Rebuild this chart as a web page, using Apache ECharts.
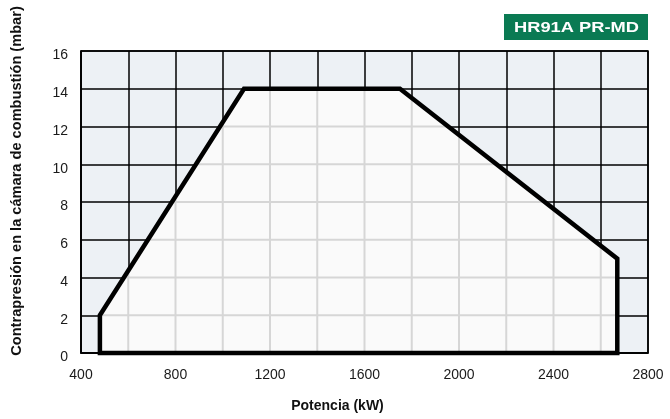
<!DOCTYPE html>
<html><head><meta charset="utf-8">
<script src="https://cdn.jsdelivr.net/npm/echarts@6/dist/echarts.min.js"></script>
<style>html,body{margin:0;padding:0;background:#fff}#c{width:670px;height:419px}</style>
</head><body><div id="c"></div>
<script>
var powerKW = [480, 480, 1090, 1750, 2670, 2670];
var pressureMbar = [0, 2, 14, 14, 5, 0];
var xTicks = [400, 800, 1200, 1600, 2000, 2400, 2800];
var yTicks = [0, 2, 4, 6, 8, 10, 12, 14, 16];
var titleText = 'HR91A PR-MD';
var xName = 'Potencia (kW)';
var yName = 'Contrapresión en la cámara de combustión (mbar)';

var font = 'Liberation Sans, Arial, Helvetica, sans-serif';
var chart = echarts.init(document.getElementById('c'), null, {renderer: 'canvas'});

function renderShape(params, api) {
  var pts = powerKW.map(function (x, i) { return api.coord([x, pressureMbar[i]]); });
  var cs = params.coordSys;
  var lines = [];
  for (var gx = 400; gx <= 2800; gx += 200) {
    var a = api.coord([gx, 0]);
    lines.push({type: 'line', shape: {x1: a[0], y1: cs.y, x2: a[0], y2: cs.y + cs.height},
      style: {stroke: '#d6d6d6', lineWidth: 2}});
  }
  for (var gy = 0; gy <= 16; gy += 2) {
    var b = api.coord([400, gy]);
    lines.push({type: 'line', shape: {x1: cs.x, y1: b[1], x2: cs.x + cs.width, y2: b[1]},
      style: {stroke: '#d6d6d6', lineWidth: 2}});
  }
  return {
    type: 'group',
    children: [
      {type: 'polygon', shape: {points: pts}, style: {fill: '#fafafa', stroke: null}},
      {type: 'group', clipPath: {type: 'polygon', shape: {points: pts}}, children: lines},
      {type: 'polygon', shape: {points: pts}, style: {fill: null, stroke: '#000', lineWidth: 4.5, lineJoin: 'miter'}}
    ]
  };
}

chart.setOption({
  animation: false,
  backgroundColor: '#fff',
  grid: {left: 81, right: 22, top: 51, bottom: 66, show: true, backgroundColor: '#edf1f5', borderColor: '#000', borderWidth: 1.5},
  graphic: [
    {type: 'rect', x: 504, y: 14, shape: {width: 144, height: 26}, style: {fill: '#0a7a53'}},
    {type: 'text', x: 576.5, y: 27.5, scaleX: 1.22, style: {text: titleText, fill: '#fff', font: 'bold 15px ' + font, textAlign: 'center', textVerticalAlign: 'middle'}},
    {type: 'text', x: 17, y: 181, rotation: Math.PI / 2, style: {text: yName, fill: '#111', font: 'bold 14.6px ' + font, textAlign: 'center', textVerticalAlign: 'middle'}},
    {type: 'text', x: 337.5, y: 406, style: {text: xName, fill: '#111', font: 'bold 14px ' + font, textAlign: 'center', textVerticalAlign: 'middle'}}
  ],
  xAxis: {
    type: 'value', min: 400, max: 2800, interval: 200,
    axisLine: {show: true, lineStyle: {color: '#000', width: 1.5}},
    axisTick: {show: false},
    axisLabel: {margin: 15, fontFamily: font, fontSize: 14, color: '#1a1a1a',
      formatter: function (v) { return xTicks.indexOf(v) >= 0 ? String(v) : ''; }},
    splitLine: {show: true, lineStyle: {color: '#000', width: 1.5}}
  },
  yAxis: {
    type: 'value', min: 0, max: 16, interval: 2,
    axisLine: {show: true, lineStyle: {color: '#000', width: 1.5}},
    axisTick: {show: false},
    axisLabel: {margin: 13, fontFamily: font, fontSize: 14, color: '#1a1a1a',
      formatter: function (v) { return yTicks.indexOf(v) >= 0 ? '{a|' + v + '}' : ''; },
      rich: {a: {fontFamily: font, fontSize: 14, color: '#1a1a1a', padding: [9, 0, 0, 0]}}},
    splitLine: {show: true, lineStyle: {color: '#000', width: 1.5}}
  },
  series: [{
    type: 'custom', renderItem: renderShape, data: [[powerKW[0], pressureMbar[0]]], clip: false, z: 3
  }]
});
</script>
</body></html>
